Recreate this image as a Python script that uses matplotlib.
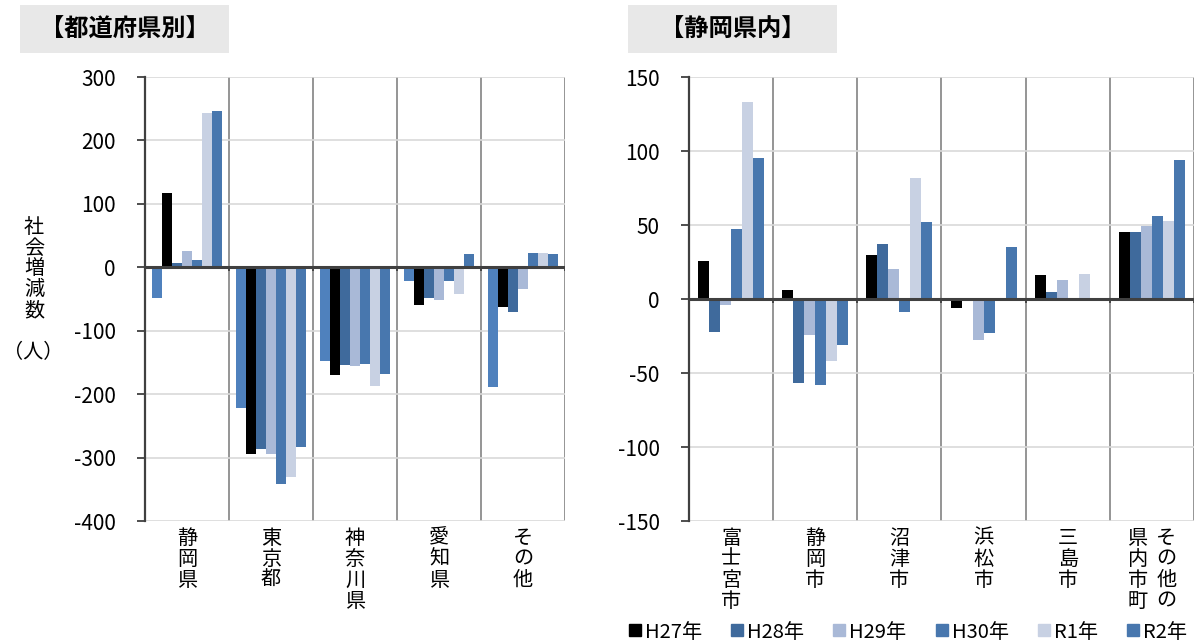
import matplotlib
matplotlib.use("Agg")
import matplotlib.pyplot as plt
from matplotlib.patches import Rectangle
from matplotlib.lines import Line2D
import numpy as np

plt.rcParams['font.family'] = ['Noto Sans CJK JP', 'DejaVu Sans']
plt.rcParams['axes.unicode_minus'] = False

# 都道府県別 社会増減数（人）
pref_names = ['静岡県', '東京都', '神奈川県', '愛知県', 'その他']
pref_h26 = [-48, -222, -147, -21, -189]
pref_h27 = [117, -295, -170, -59, -62]
pref_h28 = [7, -286, -154, -48, -70]
pref_h29 = [26, -294, -156, -52, -34]
pref_h30 = [12, -341, -152, -21, 23]
pref_r1 = [244, -331, -187, -42, 22]
pref_r2 = [246, -284, -168, 21, 21]

# 静岡県内 社会増減数（人）
city_names = ['富士宮市', '静岡市', '沼津市', '浜松市', '三島市', 'その他の\n県内市町']
city_h27 = [26, 6, 30, -6, 16, 45]
city_h28 = [-22, -57, 37, 0, 5, 45]
city_h29 = [-4, -24, 20, -28, 13, 49]
city_h30 = [47, -58, -9, -23, 0, 56]
city_r1 = [133, -42, 82, 1, 17, 53]
city_r2 = [95, -31, 52, 35, 0, 94]

years = ['H27年', 'H28年', 'H29年', 'H30年', 'R1年', 'R2年']
colors = ['#000000', '#3F6A9C', '#A9B9D7', '#4877AE', '#C8D1E3', '#4877AE']

fig = plt.figure(figsize=(11.99, 6.41), dpi=100)
W, H = 1199, 641


def px_axes(x0, y0, x1, y1):
    return fig.add_axes([x0 / W, 1 - y1 / H, (x1 - x0) / W, (y1 - y0) / H])


def style_axes(ax, n, ymin, ymax, step, tick_drop):
    ax.set_xlim(0, n)
    ax.set_ylim(ymin, ymax)
    ax.set_yticks(np.arange(ymin, ymax + 1, step))
    ax.set_xticks([])
    ax.yaxis.grid(True, color='#D9D9D9', lw=1.2)
    ax.set_axisbelow(True)
    for b in range(1, n + 1):
        ax.axvline(b, color='#8C8C8C', lw=1.3, zorder=0.5)
    ax.axhline(0, color='#404040', lw=2.2, zorder=3)
    ax.vlines(np.arange(0, n + 1), 0, -tick_drop, color='#404040', lw=1.3, zorder=3)
    for s in ['top', 'right', 'bottom']:
        ax.spines[s].set_visible(False)
    ax.spines['left'].set_color('#404040')
    ax.spines['left'].set_linewidth(1.6)
    ax.tick_params(axis='y', direction='out', length=6, width=1.3,
                   color='#404040', labelsize=15, pad=15)


def vertical_label(ax, x, text, dx=0.0):
    ax.text(x + dx, -0.015, '\n'.join(text), transform=ax.get_xaxis_transform(),
            ha='center', va='top', fontsize=14.5, linespacing=1.0)


# 左: 都道府県別
ax1 = px_axes(145, 77, 565, 521)
style_axes(ax1, 5, -400, 300, 100, 6)
pref_series = [pref_h26, pref_h27, pref_h28, pref_h29, pref_h30, pref_r1, pref_r2]
pref_colors = ['#4F81BD'] + colors
bw = 10 / 84
x = np.arange(len(pref_names)) + 0.5
for j, (vals, c) in enumerate(zip(pref_series, pref_colors)):
    ax1.bar(x + (j - 3) * bw, vals, width=bw, color=c, linewidth=0, zorder=2)
for xi, name in zip(x, pref_names):
    vertical_label(ax1, xi, name)

# 右: 静岡県内
ax2 = px_axes(689, 77, 1194, 521)
style_axes(ax2, 6, -150, 150, 50, 2.5)
city_series = [city_h27, city_h28, city_h29, city_h30, city_r1, city_r2]
bw2 = 11 / 84
x2 = np.arange(len(city_names)) + 0.5
for j, (vals, c) in enumerate(zip(city_series, colors)):
    ax2.bar(x2 + (j - 2.5) * bw2, vals, width=bw2, color=c, linewidth=0, zorder=2)
for xi, name in zip(x2, city_names):
    if '\n' in name:
        first, second = name.split('\n')
        vertical_label(ax2, xi, first, dx=0.17)
        vertical_label(ax2, xi, second, dx=-0.17)
    else:
        vertical_label(ax2, xi, name)

# 見出し
for (x0, x1, title) in [(20, 229, '【都道府県別】'), (628, 837, '【静岡県内】')]:
    fig.patches.append(Rectangle((x0 / W, 1 - 53 / H), (x1 - x0) / W, 48 / H,
                                 transform=fig.transFigure, facecolor='#E8E8E8',
                                 edgecolor='none'))
    fig.text((x0 + x1) / 2 / W, 1 - 30 / H, title, ha='center', va='center',
             fontsize=17.5, fontweight='bold')

# 縦軸ラベル
fig.text(34 / W, 1 - 269 / H, '\n'.join('社会増減数'), ha='center', va='center',
         fontsize=14.5, linespacing=0.98)
fig.text(33 / W, 1 - 353 / H, '（人）', ha='center', va='center', fontsize=14.5)

# 凡例
handles = [Line2D([], [], marker='s', linestyle='none', color=c, markersize=9)
           for c in colors]
fig.legend(handles, years, loc='center', bbox_to_anchor=(907 / W, 1 - 632 / H),
           ncol=6, frameon=False, fontsize=14.5, handletextpad=0.1,
           columnspacing=1.35, handlelength=0.8, borderaxespad=0)

fig.savefig('out.png', dpi=100)
